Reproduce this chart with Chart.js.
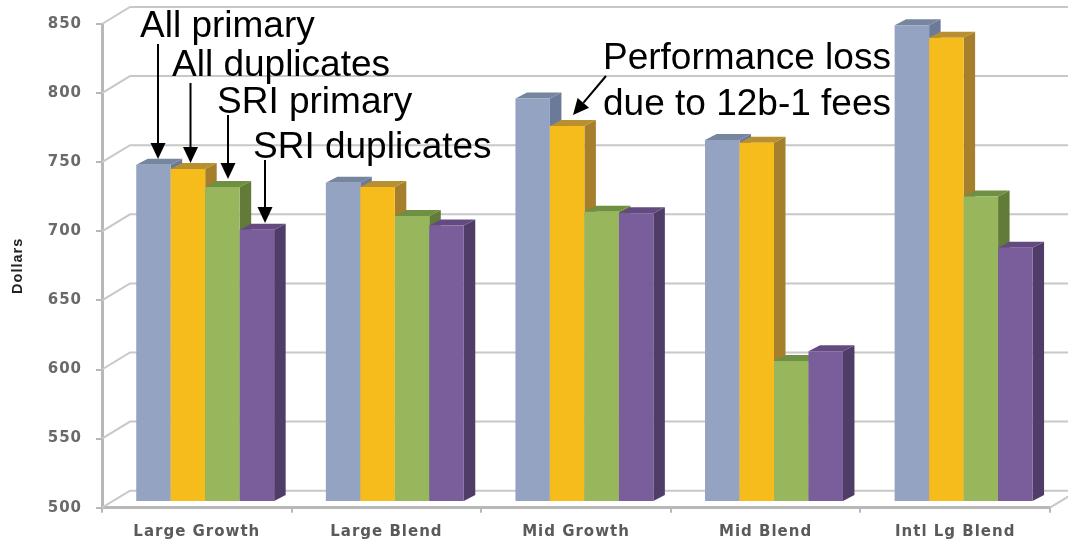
<!DOCTYPE html>
<html>
<head>
<meta charset="utf-8">
<title>Performance loss due to 12b-1 fees</title>
<script src="https://cdn.jsdelivr.net/npm/chart.js@4"></script>
<style>
    html, body { margin: 0; padding: 0; background: #fff; }
    canvas { display: block; }
</style>
</head>
<body>
<canvas id="feesChart" width="1068" height="543"></canvas>
<script>
const categories = ['Large Growth', 'Large Blend', 'Mid Growth', 'Mid Blend', 'Intl Lg Blend'];
const allPrimary = [744, 731, 792, 762, 845];
const allDuplicates = [741, 728, 772, 760, 836];
const sriPrimary = [728, 707, 710, 602, 721];
const sriDuplicates = [697, 700, 709, 609, 684];

// front, top and side shade for each series
const frontColors = ['#95a3c2', '#f6bc1c', '#98b65b', '#7a5e9b'];
const topColors = ['#76869f', '#b8902f', '#6f8f42', '#634b82'];
const sideColors = ['#6c7a99', '#a57f2b', '#637b39', '#4f3d68'];

const gridColor = '#c8c8c8';
const axisColor = '#b8b8b8';

// depth of the back wall, of the bar plane and of one bar
const wallDx = 28, wallDy = -17;
const planeDx = 8.4, planeDy = -5.7;
const barDx = 11.5, barDy = -6;

const calloutFont = '37px "Liberation Sans"';
const callouts = [
    { text: 'All primary', x: 140, y: 37 },
    { text: 'All duplicates', x: 172, y: 76 },
    { text: 'SRI primary', x: 217, y: 113 },
    { text: 'SRI duplicates', x: 253, y: 158 },
    { text: 'Performance loss', x: 603, y: 69 },
    { text: 'due to 12b-1 fees', x: 603, y: 115 }
];
const arrows = [
    { x1: 158, y1: 44, x2: 158, y2: 159 },
    { x1: 190.5, y1: 83, x2: 190.5, y2: 163 },
    { x1: 228, y1: 115, x2: 228, y2: 179 },
    { x1: 265, y1: 160, x2: 265, y2: 223 },
    { x1: 606, y1: 76, x2: 573, y2: 115 }
];

function drawArrow(ctx, a) {
    const angle = Math.atan2(a.y2 - a.y1, a.x2 - a.x1);
    const headLen = 16, headHalf = 7.5;
    const bx = a.x2 - headLen * Math.cos(angle);
    const by = a.y2 - headLen * Math.sin(angle);
    ctx.beginPath();
    ctx.moveTo(a.x1, a.y1);
    ctx.lineTo(bx, by);
    ctx.lineWidth = 2;
    ctx.strokeStyle = '#000';
    ctx.stroke();
    ctx.beginPath();
    ctx.moveTo(a.x2, a.y2);
    ctx.lineTo(bx - headHalf * Math.sin(angle), by + headHalf * Math.cos(angle));
    ctx.lineTo(bx + headHalf * Math.sin(angle), by - headHalf * Math.cos(angle));
    ctx.closePath();
    ctx.fillStyle = '#000';
    ctx.fill();
}

function drawBarFaces(ctx, bar, i) {
    const left = bar.x - bar.width / 2;
    const right = bar.x + bar.width / 2;
    ctx.fillStyle = sideColors[i];
    ctx.beginPath();
    ctx.moveTo(right, bar.y);
    ctx.lineTo(right + barDx, bar.y + barDy);
    ctx.lineTo(right + barDx, bar.base + barDy);
    ctx.lineTo(right, bar.base);
    ctx.closePath();
    ctx.fill();
    ctx.fillStyle = topColors[i];
    ctx.beginPath();
    ctx.moveTo(left, bar.y);
    ctx.lineTo(left + barDx, bar.y + barDy);
    ctx.lineTo(right + barDx, bar.y + barDy);
    ctx.lineTo(right, bar.y);
    ctx.closePath();
    ctx.fill();
}

const perspectivePlugin = {
    id: 'perspective',
    beforeDraw(chart) {
        // the axis labels are set wide
        chart.ctx.letterSpacing = '1px';
    },
    beforeDatasetsDraw(chart) {
        const ctx = chart.ctx;
        const area = chart.chartArea;
        const yScale = chart.scales.y;

        // side wall and back wall lines at every tick
        ctx.save();
        ctx.strokeStyle = gridColor;
        ctx.lineWidth = 2;
        yScale.ticks.forEach(tick => {
            const y = yScale.getPixelForValue(tick.value);
            ctx.beginPath();
            ctx.moveTo(area.left, y);
            ctx.lineTo(area.left + wallDx, y + wallDy);
            ctx.lineTo(area.right + wallDx, y + wallDy);
            ctx.stroke();
        });
        // right edge of the floor
        ctx.beginPath();
        ctx.moveTo(area.right, area.bottom);
        ctx.lineTo(area.right + wallDx, area.bottom + wallDy);
        ctx.stroke();
        ctx.restore();

        // bars stand a little behind the front axis; series are painted left to
        // right so each front covers the side face of the bar before it
        ctx.save();
        ctx.translate(planeDx, planeDy);
        seriesValues.forEach((values, i) => {
            const meta = chart.getDatasetMeta(i);
            meta.data.forEach(bar => drawBarFaces(ctx, bar, i));
            meta.controller.draw();
        });
        ctx.restore();
        return false;
    },
    afterDraw(chart) {
        const ctx = chart.ctx;
        ctx.save();
        ctx.letterSpacing = '0px';
        arrows.forEach(a => drawArrow(ctx, a));
        ctx.font = calloutFont;
        ctx.fillStyle = '#000';
        ctx.textAlign = 'left';
        ctx.textBaseline = 'alphabetic';
        callouts.forEach(c => ctx.fillText(c.text, c.x, c.y));
        ctx.restore();
    }
};

const seriesValues = [allPrimary, allDuplicates, sriPrimary, sriDuplicates];
const seriesNames = ['All primary', 'All duplicates', 'SRI primary', 'SRI duplicates'];

const chart = new Chart(document.getElementById('feesChart').getContext('2d'), {
    type: 'bar',
    data: {
        labels: categories,
        datasets: seriesValues.map((values, i) => ({
            label: seriesNames[i],
            data: values,
            base: 500,
            backgroundColor: frontColors[i],
            categoryPercentage: 0.7275,
            barPercentage: 1
        }))
    },
    options: {
        responsive: false,
        animation: false,
        layout: { padding: { left: 0, top: 24, right: 18, bottom: 0 } },
        plugins: { legend: { display: false }, tooltip: { enabled: false } },
        scales: {
            x: {
                afterFit: scale => { scale.height = 35.3; },
                grid: { drawOnChartArea: false, color: axisColor, lineWidth: 2, tickLength: 5 },
                border: { color: axisColor, width: 3 },
                ticks: { color: '#5a5a5a', font: { family: '"DejaVu Sans"', size: 15, weight: 'bold' }, padding: 10, maxRotation: 0 }
            },
            y: {
                min: 500,
                max: 850,
                afterFit: scale => { scale.width = 102; },
                grid: { drawOnChartArea: false, color: axisColor, lineWidth: 2, tickLength: 6 },
                border: { color: axisColor, width: 3 },
                ticks: { stepSize: 50, color: '#6a6a6a', font: { family: '"DejaVu Sans"', size: 15, weight: 'bold' }, padding: 14 },
                title: {
                    display: true,
                    text: 'Dollars',
                    color: '#222',
                    font: { family: '"Liberation Sans"', size: 14.5, weight: 'bold' },
                    padding: { top: 9, bottom: 0 }
                }
            }
        }
    },
    plugins: [perspectivePlugin]
});
</script>
</body>
</html>
